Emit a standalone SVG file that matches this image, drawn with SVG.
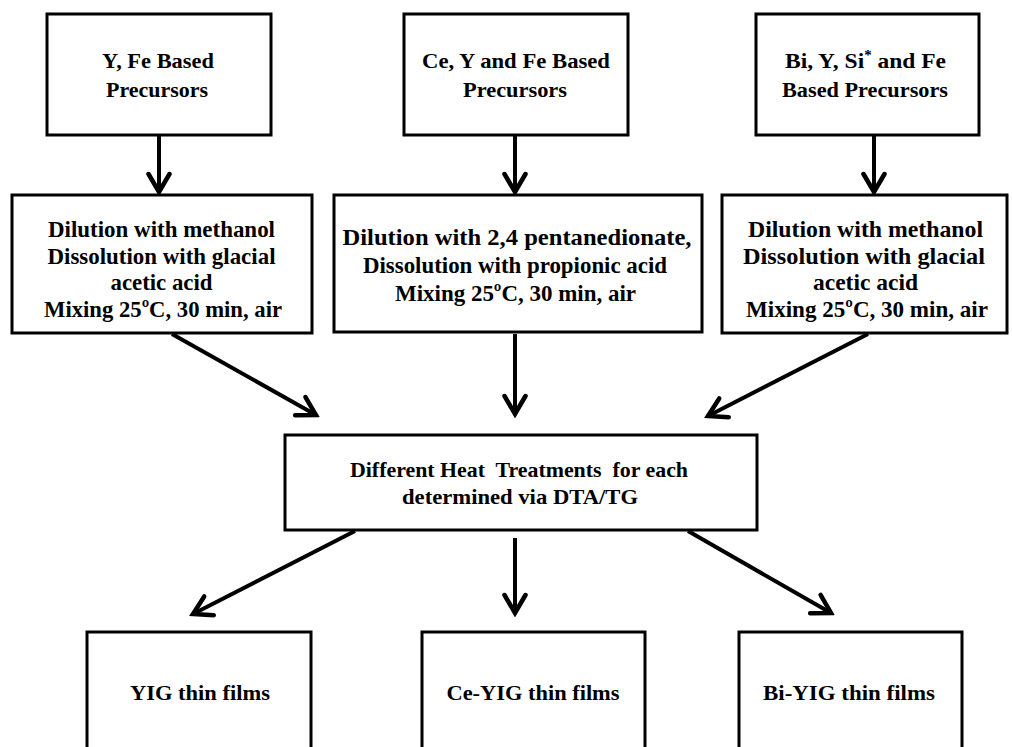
<svg xmlns="http://www.w3.org/2000/svg" width="1012" height="747" viewBox="0 0 1012 747">
<style>
.box{fill:#fff;stroke:#000;stroke-width:3}
text{font-weight:bold;fill:#000;text-anchor:middle}
.t22{font-size:22px}
.t24{font-size:24px}
.arr{stroke:#000;stroke-width:4;fill:none;marker-end:url(#chev)}
</style>
<defs>
<marker id="chev" markerUnits="userSpaceOnUse" viewBox="-24 -14 28 28" refX="0" refY="0" markerWidth="28" markerHeight="28" orient="auto">
<path d="M-18,-10.5 L0,0 L-18,10.5" fill="none" stroke="#000" stroke-width="4.5" stroke-linejoin="miter" stroke-linecap="round"/>
</marker>
</defs>
<rect width="1012" height="747" fill="#fff"/>
<g id="connectors">
<line class="arr" x1="159" y1="136" x2="159" y2="192"/>
<line class="arr" x1="515" y1="136" x2="515" y2="192"/>
<line class="arr" x1="874" y1="136" x2="874" y2="192"/>
<line class="arr" x1="172" y1="334" x2="316" y2="415"/>
<line class="arr" x1="515" y1="334" x2="515" y2="414"/>
<line class="arr" x1="868" y1="334" x2="708" y2="416"/>
<line class="arr" x1="355" y1="531" x2="193" y2="614"/>
<line class="arr" x1="515" y1="538" x2="515" y2="613"/>
<line class="arr" x1="688" y1="531" x2="831" y2="613"/>
</g>
<g font-family="Liberation Serif, Times New Roman, DejaVu Serif, serif">
<g id="n1">
<rect class="box" x="47" y="14" width="224" height="121"/>
<text class="t22" x="158" y="68" textLength="112" lengthAdjust="spacingAndGlyphs">Y, Fe Based</text>
<text class="t22" x="157" y="97" textLength="102" lengthAdjust="spacingAndGlyphs">Precursors</text>
</g>
<g id="n2">
<rect class="box" x="404" y="14" width="224" height="121"/>
<text class="t22" x="516" y="68" textLength="188" lengthAdjust="spacingAndGlyphs">Ce, Y and Fe Based</text>
<text class="t22" x="515" y="97" textLength="104" lengthAdjust="spacingAndGlyphs">Precursors</text>
</g>
<g id="n3">
<rect class="box" x="756" y="14" width="223" height="121"/>
<text class="t22" x="865.5" y="68" textLength="161" lengthAdjust="spacingAndGlyphs">Bi, Y, Si<tspan font-size="14" dy="-8">*</tspan><tspan dy="8"> and Fe</tspan></text>
<text class="t22" x="865" y="97" textLength="166" lengthAdjust="spacingAndGlyphs">Based Precursors</text>
</g>
<g id="n4">
<rect class="box" x="12" y="195" width="300" height="138"/>
<text class="t24" x="161.5" y="237" textLength="227" lengthAdjust="spacingAndGlyphs">Dilution with methanol</text>
<text class="t24" x="161.5" y="264" textLength="228" lengthAdjust="spacingAndGlyphs">Dissolution with glacial</text>
<text class="t24" x="161.5" y="290" textLength="102" lengthAdjust="spacingAndGlyphs">acetic acid</text>
<text class="t24" x="163" y="317" textLength="238" lengthAdjust="spacingAndGlyphs">Mixing 25ºC, 30 min, air</text>
</g>
<g id="n5">
<rect class="box" x="334" y="195" width="368" height="137"/>
<text class="t24" x="517" y="245" textLength="349" lengthAdjust="spacingAndGlyphs">Dilution with 2,4 pentanedionate,</text>
<text class="t24" x="515" y="273" textLength="304" lengthAdjust="spacingAndGlyphs">Dissolution with propionic acid</text>
<text class="t24" x="515.5" y="301" textLength="241" lengthAdjust="spacingAndGlyphs">Mixing 25ºC, 30 min, air</text>
</g>
<g id="n6">
<rect class="box" x="722" y="195" width="285" height="138"/>
<text class="t24" x="865.5" y="237" textLength="235" lengthAdjust="spacingAndGlyphs">Dilution with methanol</text>
<text class="t24" x="864" y="264" textLength="242" lengthAdjust="spacingAndGlyphs">Dissolution with glacial</text>
<text class="t24" x="865.5" y="290" textLength="105" lengthAdjust="spacingAndGlyphs">acetic acid</text>
<text class="t24" x="867" y="317" textLength="242" lengthAdjust="spacingAndGlyphs">Mixing 25ºC, 30 min, air</text>
</g>
<g id="n7">
<rect class="box" x="285" y="435" width="472" height="95"/>
<text class="t22" x="519" y="477" textLength="338" lengthAdjust="spacingAndGlyphs" xml:space="preserve">Different Heat  Treatments  for each</text>
<text class="t22" x="520" y="504" textLength="236" lengthAdjust="spacingAndGlyphs">determined via DTA/TG</text>
</g>
<g id="n8">
<rect class="box" x="87" y="632" width="224" height="130"/>
<text class="t22" x="200" y="700" textLength="140" lengthAdjust="spacingAndGlyphs">YIG thin films</text>
</g>
<g id="n9">
<rect class="box" x="422" y="632" width="223" height="130"/>
<text class="t22" x="533" y="700" textLength="173" lengthAdjust="spacingAndGlyphs">Ce-YIG thin films</text>
</g>
<g id="n10">
<rect class="box" x="739" y="632" width="223" height="130"/>
<text class="t22" x="849" y="700" textLength="172" lengthAdjust="spacingAndGlyphs">Bi-YIG thin films</text>
</g>
</g>
</svg>
